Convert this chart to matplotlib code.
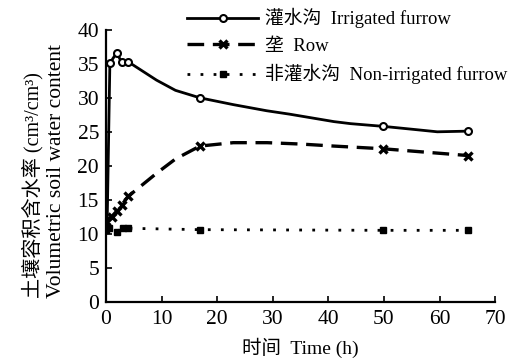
import matplotlib
matplotlib.use("Agg")
import matplotlib.pyplot as plt

irr_t = [0.2, 0.7, 1.9, 2.8, 4.0, 9.1, 12.5, 16.9, 22.9, 28.9, 33, 41, 44, 49.9, 56, 59.6, 65.2]
irr_v = [11.0, 35.1, 36.6, 35.3, 35.3, 32.6, 31.1, 30.0, 29.0, 28.1, 27.6, 26.5, 26.2, 25.8, 25.3, 25.0, 25.1]
irr_mark = [1, 2, 3, 4, 7, 13, 16]

# row
row_t = [0, 1.0, 1.9, 2.8, 4.0, 9.1, 12.5, 16.9, 22.9, 29, 35, 41, 49.9, 56, 65.2]
row_v = [11.8, 12.5, 13.3, 14.2, 15.5, 18.9, 21.0, 22.9, 23.4, 23.4, 23.2, 22.9, 22.5, 22.1, 21.5]
row_mark = [0, 1, 2, 3, 4, 7, 12, 14]

# non-irrigated furrow
non_t = [0, 0.5, 1.9, 3.0, 4.0, 16.9, 49.9, 65.2]
non_v = [10.6, 10.9, 10.3, 10.8, 10.8, 10.6, 10.5, 10.5]

plt.rcParams["font.family"] = ["Liberation Serif", "Noto Sans CJK SC"]

fig = plt.figure(figsize=(5.12, 3.6), dpi=100)
ax = fig.add_axes([0.207, 0.162, 0.76, 0.755])

ax.plot(irr_t, irr_v, "-", color="black", lw=2.0, marker="o", markevery=irr_mark,
        markersize=5, markerfacecolor="white", markeredgewidth=1.5,
        label="灌水沟  Irrigated furrow")
ax.plot(row_t, row_v, color="black", lw=2.4, dashes=(5, 2.6), marker="x", markevery=row_mark,
        markersize=5.5, markeredgewidth=2.4, label="垄  Row")
ax.plot(non_t, non_v, color="black", lw=2.0, dashes=(1, 3.7), marker="s",
        markersize=5, label="非灌水沟  Non-irrigated furrow")

ax.set_xlim(0, 70)
ax.set_ylim(0, 40)
ax.set_xticks(range(0, 71, 10))
ax.set_yticks(range(0, 41, 5))
ax.spines["top"].set_visible(False)
ax.spines["right"].set_visible(False)
ax.spines["left"].set_linewidth(1.6)
ax.spines["bottom"].set_linewidth(1.6)
ax.tick_params(direction="in", length=4, width=1.2, labelsize=15.5)
ax.tick_params(axis="y", pad=5)
ax.tick_params(axis="x", pad=6)

ax.set_xlabel("时间  Time (h)", fontsize=14, labelpad=6)

fig.text(0.0645, 0.172, "土壤容积含水率 (cm³/cm³)", rotation=90,
         ha="center", va="bottom", fontsize=14.5)
fig.text(0.111, 0.172, "Volumetric soil water content", rotation=90,
         ha="center", va="bottom", fontsize=15.5)

fig.legend(loc="upper left", bbox_to_anchor=(0.365, 0.978), frameon=False,
           borderpad=0, borderaxespad=0, handlelength=3.8, fontsize=13.5,
           labelspacing=0.5, handletextpad=0.35)

fig.savefig("out.png", dpi=100)
